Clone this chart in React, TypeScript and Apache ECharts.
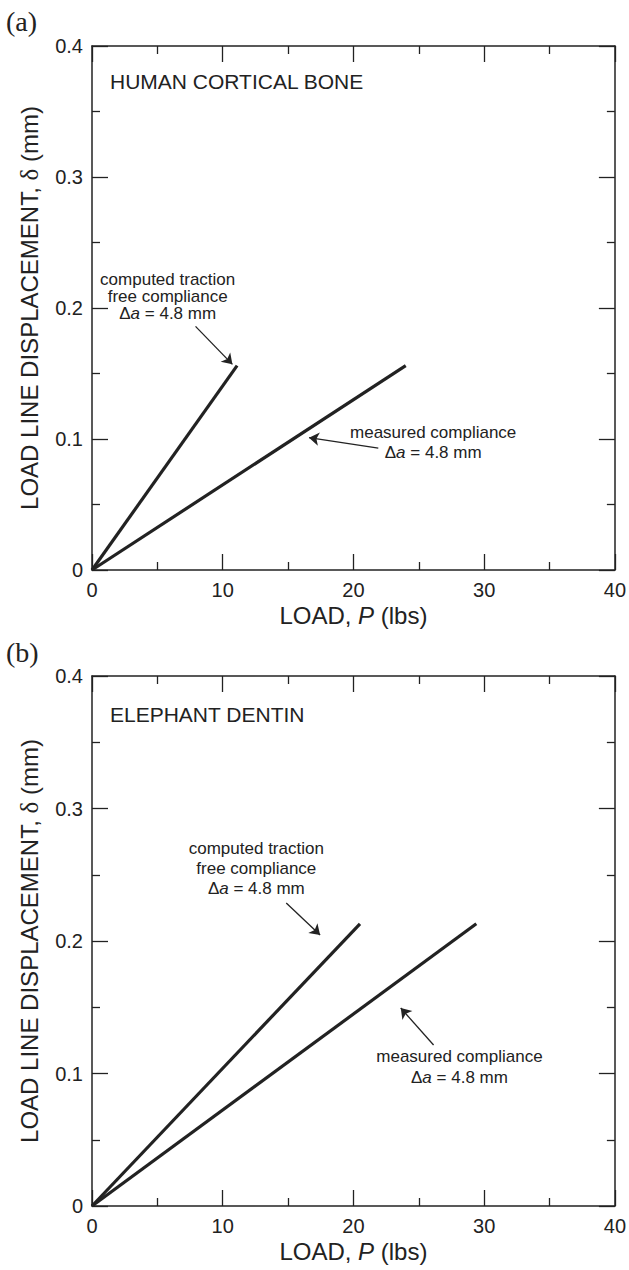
import React, { useEffect, useRef } from "react";
import * as echarts from "echarts";

// Data (LOAD P in lbs, displacement delta in mm)
const topComputed: number[][] = [[0, 0], [11.1, 0.156]];
const topMeasured: number[][] = [[0, 0], [24.0, 0.156]];
const botComputed: number[][] = [[0, 0], [20.5, 0.213]];
const botMeasured: number[][] = [[0, 0], [29.4, 0.213]];

const xTickMax = 40;
const yTickMax = 0.4;
const panelLetters = ["(a)", "(b)"];
const panelTitles = ["HUMAN CORTICAL BONE", "ELEPHANT DENTIN"];

// Annotation anchors in data coordinates: [textCenter, arrowFrom, arrowTo]
const annTop = {
  computed: { text: [5.79, 0.2084], from: [7.92, 0.186], to: [10.74, 0.157] },
  measured: { text: [26.1, 0.097], from: [21.9, 0.093], to: [16.6, 0.101] },
};
const annBot = {
  computed: { text: [12.57, 0.255], from: [14.86, 0.2287], to: [17.45, 0.2045] },
  measured: { text: [28.11, 0.105], from: [26.13, 0.1215], to: [23.62, 0.1494] },
};

const FONT = "'Liberation Sans', Arial, Helvetica, sans-serif";
const INK = "#222";

function axesFor(gi: number) {
  const common = {
    gridIndex: gi,
    min: 0,
    axisLine: { show: true, onZero: false, lineStyle: { color: INK, width: 1.5 } },
    axisTick: { show: true, inside: true, length: 16, lineStyle: { color: INK, width: 1.3 } },
    minorTick: { show: true, splitNumber: 2, length: 8, lineStyle: { color: INK, width: 1.3 } },
    splitLine: { show: false },
  };
  const xMain = {
    ...common,
    type: "value",
    position: "bottom",
    max: xTickMax,
    interval: 10,
    axisLabel: { color: INK, fontSize: 20, fontFamily: FONT, margin: 10 },
    name: "{a|LOAD, }{i|P}{a| (lbs)}",
    nameLocation: "middle",
    nameGap: 33,
    nameTextStyle: {
      rich: {
        a: { fontSize: 24, fontFamily: FONT, color: INK },
        i: { fontSize: 24, fontFamily: FONT, color: INK, fontStyle: "italic" },
      },
    },
  };
  const xMirror = {
    ...common,
    type: "value",
    position: "top",
    max: xTickMax,
    interval: 10,
    axisLabel: { show: false },
  };
  const yMain = {
    ...common,
    type: "value",
    position: "left",
    max: yTickMax,
    interval: 0.1,
    axisLabel: {
      color: INK,
      fontSize: 20,
      fontFamily: FONT,
      margin: 9,
      formatter: (v: number) => (v === 0 ? "0" : v.toFixed(1)),
    },
    name: "{a|LOAD LINE DISPLACEMENT, }{g|δ}{a| (mm)}",
    nameLocation: "middle",
    nameRotate: 90,
    nameGap: 50,
    nameTextStyle: {
      rich: {
        a: { fontSize: 24, fontFamily: FONT, color: INK },
        g: { fontSize: 25, fontFamily: "'Liberation Serif', 'DejaVu Serif', serif", color: INK },
      },
    },
  };
  const yMirror = {
    ...common,
    type: "value",
    position: "right",
    max: yTickMax,
    interval: 0.1,
    axisLabel: { show: false },
  };
  return { x: [xMain, xMirror], y: [yMain, yMirror] };
}

function lineSeries(data: number[][], axisIdx: number) {
  return {
    type: "line",
    xAxisIndex: axisIdx,
    yAxisIndex: axisIdx,
    data,
    showSymbol: false,
    symbol: "none",
    lineStyle: { color: INK, width: 3.2 },
    silent: true,
  };
}

function arrowSeries(list: { from: number[]; to: number[] }[], axisIdx: number) {
  return {
    type: "lines",
    coordinateSystem: "cartesian2d",
    xAxisIndex: axisIdx,
    yAxisIndex: axisIdx,
    symbol: ["none", "arrow"],
    symbolSize: [0, 10],
    lineStyle: { color: INK, width: 1.3, opacity: 1 },
    data: list.map((a) => ({ coords: [a.from, a.to] })),
    silent: true,
  };
}

const richAnn = {
  t: { fontSize: 17, fontFamily: FONT, fill: INK },
  i: { fontSize: 17, fontFamily: FONT, fill: INK, fontStyle: "italic" },
};

export default function App() {
  const ref = useRef<HTMLDivElement>(null);
  useEffect(() => {
    if (!ref.current) return;
    const chart = echarts.init(ref.current, null, { renderer: "svg" });
    const a0 = axesFor(0);
    const a1 = axesFor(1);
    // axis indices: grid0 -> x0 (main), x1 (mirror); grid1 -> x2 (main), x3 (mirror)
    chart.setOption({
      animation: false,
      backgroundColor: "#fff",
      grid: [
        { left: 92, top: 46, width: 525, height: 524 },
        { left: 92, top: 676, width: 525, height: 530 },
      ],
      xAxis: [...a0.x, ...a1.x],
      yAxis: [...a0.y, ...a1.y],
      series: [
        lineSeries(topComputed, 0),
        lineSeries(topMeasured, 0),
        lineSeries(botComputed, 2),
        lineSeries(botMeasured, 2),
        arrowSeries([annTop.computed, annTop.measured], 0),
        arrowSeries([annBot.computed, annBot.measured], 2),
      ],
    });

    const px = (axis: number, pt: number[]) =>
      chart.convertToPixel({ xAxisIndex: axis, yAxisIndex: axis }, pt) as number[];

    const annText = (axis: number, pt: number[], lines: string[], lh: number) => {
      const p = px(axis, pt);
      return {
        type: "text",
        x: p[0],
        y: p[1],
        style: {
          text: lines.join("\n"),
          rich: { ...richAnn, t: { ...richAnn.t, lineHeight: lh }, i: { ...richAnn.i, lineHeight: lh } },
          align: "center",
          verticalAlign: "middle",
          fill: INK,
        },
        silent: true,
      };
    };

    const plainText = (x: number, y: number, text: string, font: string) => ({
      type: "text",
      x,
      y,
      style: { text, font, fill: INK, verticalAlign: "middle" },
      silent: true,
    });

    const topLeft0 = px(0, [0, yTickMax]);
    const topLeft1 = px(2, [0, yTickMax]);

    chart.setOption({
      graphic: [
        plainText(6, 21, panelLetters[0], "28px 'Liberation Serif', 'Times New Roman', serif"),
        plainText(6, 652, panelLetters[1], "28px 'Liberation Serif', 'Times New Roman', serif"),
        plainText(topLeft0[0] + 18, topLeft0[1] + 35, panelTitles[0], `21px ${FONT}`),
        plainText(topLeft1[0] + 18, topLeft1[1] + 38, panelTitles[1], `21px ${FONT}`),
        annText(0, annTop.computed.text, ["{t|computed traction}", "{t|free compliance}", "{t|Δ}{i|a}{t| = 4.8 mm}"], 17),
        annText(0, annTop.measured.text, ["{t|measured compliance}", "{t|Δ}{i|a}{t| = 4.8 mm}"], 20),
        annText(2, annBot.computed.text, ["{t|computed traction}", "{t|free compliance}", "{t|Δ}{i|a}{t| = 4.8 mm}"], 20),
        annText(2, annBot.measured.text, ["{t|measured compliance}", "{t|Δ}{i|a}{t| = 4.8 mm}"], 21),
      ],
    });

    return () => chart.dispose();
  }, []);
  return (
    <div
      ref={ref}
      style={{ position: "absolute", left: 0, top: 0, width: 629, height: 1270, background: "#fff" }}
    />
  );
}
